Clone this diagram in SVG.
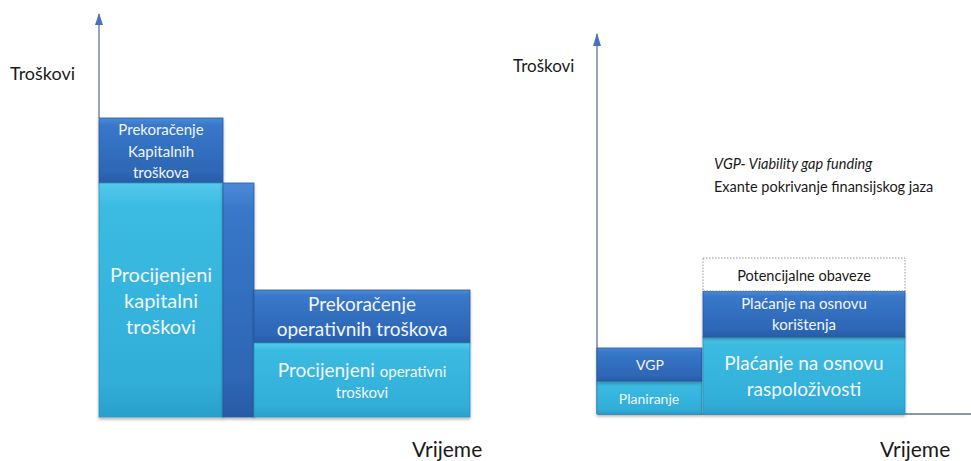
<svg xmlns="http://www.w3.org/2000/svg" width="971" height="461" viewBox="0 0 971 461">
  <style>
    .axis { stroke: #5f7598; stroke-width: 1.3; fill: none; }
    .lbl { font-family: Lato, "Open Sans", sans-serif; fill: #1a1a1a; }
    .in { font-family: Lato, "Open Sans", sans-serif; fill: #f2f6fb; text-anchor: middle; }
    .dark { fill: url(#gDark); stroke: #2a5b9e; stroke-width: 0.8; filter: url(#shadow); }
    .cyan { fill: url(#gCyan); stroke: #2a93bd; stroke-width: 0.8; filter: url(#shadow); }
  </style>
  <defs>
    <linearGradient id="gDark" x1="0" y1="0" x2="0" y2="1">
      <stop offset="0" stop-color="#4b8ad8"/>
      <stop offset="0.12" stop-color="#3877c9"/>
      <stop offset="0.85" stop-color="#2d66b5"/>
      <stop offset="1" stop-color="#285ba4"/>
    </linearGradient>
    <linearGradient id="gCyan" x1="0" y1="0" x2="0" y2="1">
      <stop offset="0" stop-color="#55c9ec"/>
      <stop offset="0.1" stop-color="#3bbbe2"/>
      <stop offset="0.85" stop-color="#31aed8"/>
      <stop offset="1" stop-color="#2aa0cb"/>
    </linearGradient>
    <filter id="shadow" x="-10%" y="-10%" width="120%" height="130%">
      <feDropShadow dx="0" dy="2" stdDeviation="1.8" flood-color="#000" flood-opacity="0.3"/>
    </filter>
  </defs>

  <!-- Axes of both charts -->
  <g id="connectors">
    <line class="axis" x1="99" y1="118" x2="99" y2="14" />
    <path d="M95,25 L99,13 L103,25 Z" fill="#4a72b8"/>
    <line class="axis" x1="597" y1="414" x2="597" y2="34" />
    <path d="M593,46 L597,33 L601,46 Z" fill="#4a72b8"/>
    <line class="axis" x1="597" y1="414" x2="971" y2="414" />
  </g>

  <!-- Left chart: traditional procurement -->
  <text class="lbl" x="10" y="80" font-size="18">Troškovi</text>
  <text class="lbl" x="412" y="457" font-size="21">Vrijeme</text>

  <g id="cap-overrun">
    <rect class="dark" x="99" y="118" width="124" height="65"/>
    <text class="in" x="161" y="135" font-size="15">Prekoračenje</text>
    <text class="in" x="161" y="157" font-size="15">Kapitalnih</text>
    <text class="in" x="161" y="178" font-size="15">troškova</text>
  </g>

  <g id="cap-estimate">
    <rect class="cyan" x="99" y="183" width="124" height="234"/>
    <text class="in" x="161" y="282" font-size="20">Procijenjeni</text>
    <text class="in" x="161" y="308" font-size="20">kapitalni</text>
    <text class="in" x="161" y="334" font-size="20">troškovi</text>
  </g>

  <g id="cap-strip">
    <rect class="dark" x="223" y="183" width="31" height="234"/>
  </g>

  <g id="op-overrun">
    <rect class="dark" x="254" y="290" width="216" height="53"/>
    <text class="in" x="362" y="311" font-size="19">Prekoračenje</text>
    <text class="in" x="362" y="336" font-size="19">operativnih troškova</text>
  </g>

  <g id="op-estimate">
    <rect class="cyan" x="254" y="343" width="216" height="74"/>
    <text class="in" x="362" y="377"><tspan font-size="19">Procijenjeni </tspan><tspan font-size="15">operativni</tspan></text>
    <text class="in" x="362" y="398" font-size="15">troškovi</text>
  </g>

  <!-- Right chart: PPP payment structure -->
  <text class="lbl" x="513" y="72" font-size="17">Troškovi</text>
  <text class="lbl" x="880" y="457" font-size="21">Vrijeme</text>
  <text class="lbl" x="714" y="169" font-size="14.5" font-style="italic">VGP- Viability gap funding</text>
  <text class="lbl" x="714" y="192" font-size="14.5">Exante pokrivanje finansijskog jaza</text>

  <g id="planning">
    <rect class="cyan" x="597" y="381" width="105" height="33"/>
    <text class="in" x="649" y="404" font-size="14">Planiranje</text>
  </g>

  <g id="vgp">
    <rect class="dark" x="597" y="348" width="105" height="33"/>
    <text class="in" x="650" y="370" font-size="14">VGP</text>
  </g>

  <g id="availability">
    <rect class="cyan" x="703" y="337" width="202" height="77"/>
    <text class="in" x="804" y="370" font-size="19">Plaćanje na osnovu</text>
    <text class="in" x="804" y="396" font-size="19">raspoloživosti</text>
  </g>

  <g id="usage">
    <rect class="dark" x="703" y="291" width="202" height="46"/>
    <text class="in" x="804" y="309" font-size="15">Plaćanje na osnovu</text>
    <text class="in" x="804" y="330" font-size="15">korištenja</text>
  </g>

  <g id="contingent">
    <rect x="703" y="258" width="202" height="33" fill="#ffffff" stroke="#8a8a8a" stroke-width="0.9" stroke-dasharray="1.5,1.5"/>
    <text class="lbl" x="804" y="281" font-size="14.5" text-anchor="middle">Potencijalne obaveze</text>
  </g>
</svg>
